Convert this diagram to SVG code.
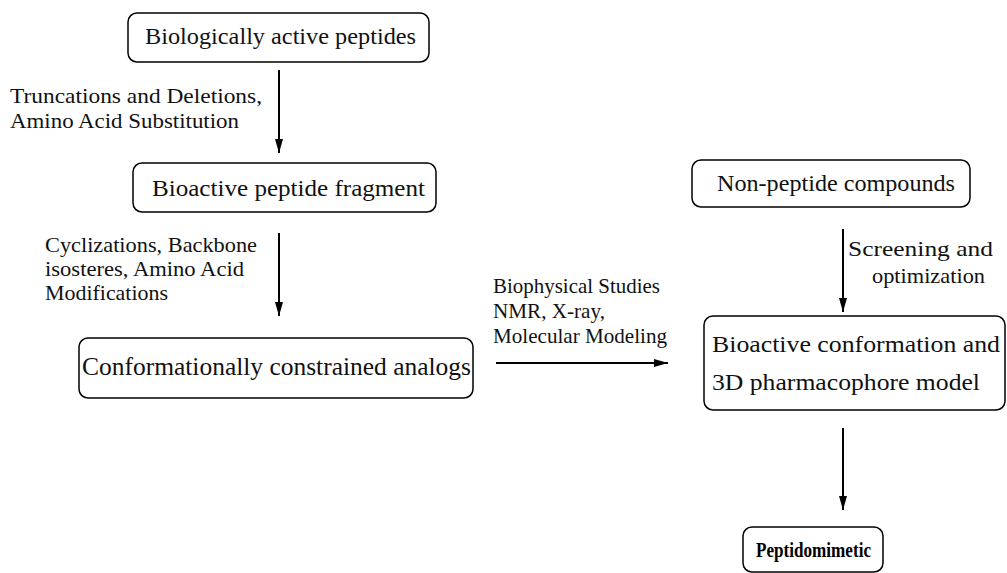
<svg xmlns="http://www.w3.org/2000/svg" width="1007" height="573" viewBox="0 0 1007 573">
<style>
.box{fill:#fff;stroke:#000;stroke-width:1.5}
.nt{font-family:"Liberation Serif","Times New Roman",Times,serif;font-size:24px;fill:#111}
.lt{font-family:"Liberation Serif","Times New Roman",Times,serif;font-size:21px;fill:#111}
.bt{font-family:"Liberation Serif","Times New Roman",Times,serif;font-size:21px;font-weight:bold;fill:#000}
.ed{stroke:#000;stroke-width:2;fill:none;marker-end:url(#ah)}
</style>
<defs>
<marker id="ah" viewBox="0 0 14 8" refX="14" refY="4" markerWidth="14" markerHeight="8" markerUnits="userSpaceOnUse" orient="auto">
<path d="M0,0 L14,4 L0,8 Z" fill="#000"/>
</marker>
</defs>
<rect width="1007" height="573" fill="#fff"/>
<g id="connectors">
<line class="ed" x1="279" y1="70" x2="279" y2="153"/>
<line class="ed" x1="279" y1="233" x2="279" y2="316"/>
<line class="ed" x1="496" y1="363" x2="668" y2="363"/>
<line class="ed" x1="843" y1="229" x2="843" y2="312"/>
<line class="ed" x1="843" y1="428" x2="843" y2="510"/>
<text class="lt" x="10" y="103" textLength="252" lengthAdjust="spacingAndGlyphs">Truncations and Deletions,</text>
<text class="lt" x="10" y="128" textLength="229" lengthAdjust="spacingAndGlyphs">Amino Acid Substitution</text>
<text class="lt" x="45" y="252" textLength="212" lengthAdjust="spacingAndGlyphs">Cyclizations, Backbone</text>
<text class="lt" x="45" y="276" textLength="199" lengthAdjust="spacingAndGlyphs">isosteres, Amino Acid</text>
<text class="lt" x="45" y="300" textLength="123" lengthAdjust="spacingAndGlyphs">Modifications</text>
<text class="lt" x="493" y="293" textLength="167" lengthAdjust="spacingAndGlyphs">Biophysical Studies</text>
<text class="lt" x="493" y="318" textLength="112" lengthAdjust="spacingAndGlyphs">NMR, X-ray,</text>
<text class="lt" x="493" y="343" textLength="174" lengthAdjust="spacingAndGlyphs">Molecular Modeling</text>
<text class="lt" x="848" y="256" textLength="145" lengthAdjust="spacingAndGlyphs">Screening and</text>
<text class="lt" x="872" y="283" textLength="113" lengthAdjust="spacingAndGlyphs">optimization</text>
</g>
<g id="n1">
<rect class="box" x="128" y="13" width="301" height="49" rx="9"/>
<text class="nt" x="145" y="44" textLength="271" lengthAdjust="spacingAndGlyphs">Biologically active peptides</text>
</g>
<g id="n2">
<rect class="box" x="133" y="163" width="303" height="49" rx="9"/>
<text class="nt" x="152" y="196" textLength="273" lengthAdjust="spacingAndGlyphs">Bioactive peptide fragment</text>
</g>
<g id="n3">
<rect class="box" x="79" y="338" width="394" height="60" rx="9"/>
<text class="nt" x="82" y="375" textLength="389" lengthAdjust="spacingAndGlyphs" style="font-size:25.5px">Conformationally constrained analogs</text>
</g>
<g id="n4">
<rect class="box" x="692" y="160" width="278" height="47" rx="9"/>
<text class="nt" x="717" y="191" textLength="238" lengthAdjust="spacingAndGlyphs">Non-peptide compounds</text>
</g>
<g id="n5">
<rect class="box" x="704" y="316" width="301" height="94" rx="9"/>
<text class="nt" x="712" y="352" textLength="288" lengthAdjust="spacingAndGlyphs">Bioactive conformation and</text>
<text class="nt" x="712" y="390" textLength="268" lengthAdjust="spacingAndGlyphs">3D pharmacophore model</text>
</g>
<g id="n6">
<rect class="box" x="743" y="527" width="140" height="45" rx="9"/>
<text class="bt" x="756" y="557" textLength="115" lengthAdjust="spacingAndGlyphs">Peptidomimetic</text>
</g>
</svg>
